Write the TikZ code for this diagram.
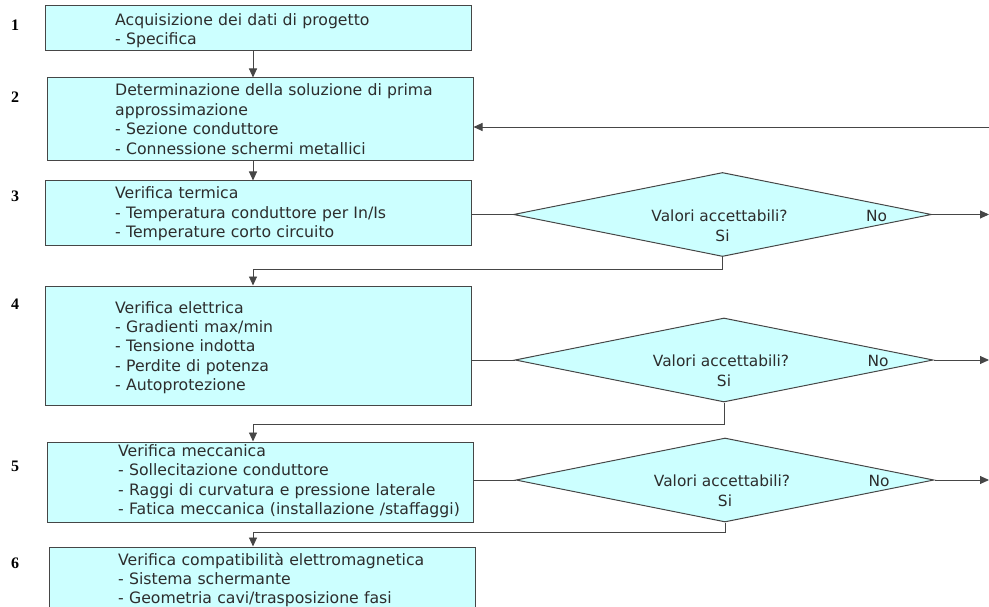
\documentclass[tikz,border=0pt]{standalone}
\usepackage{fontspec}
\usetikzlibrary{shapes.geometric,arrows.meta,positioning}
\newfontfamily\vfont{DejaVu Sans}
\newfontfamily\nfont{Liberation Serif}
\definecolor{boxfill}{RGB}{204,255,255}
\definecolor{boxline}{RGB}{70,70,70}
\definecolor{linec}{RGB}{70,70,70}
\definecolor{txtc}{RGB}{45,45,45}
\tikzset{
  box/.style={draw=boxline, fill=boxfill, line width=1pt, minimum width=426pt, inner sep=0pt},
  ask/.style={diamond, draw=boxline, fill=boxfill, line width=1pt, minimum width=418pt, minimum height=84pt, inner sep=0pt},
  txt/.style={anchor=base west, text width=370pt, align=left, inner sep=0pt, text=txtc, font=\vfont\fontsize{15.7}{19.4}\selectfont},
  dtxt/.style={inner sep=0pt, text=txtc, font=\vfont\fontsize{15.4}{18}\selectfont},
  num/.style={inner sep=0pt, font=\nfont\bfseries\fontsize{16}{16}\selectfont},
  ln/.style={draw=linec, line width=0.9pt},
  arr/.style={ln, -{Triangle[length=9pt,width=8pt]}}
}
\begin{document}
\begin{tikzpicture}[x=1pt,y=-1pt]

    \useasboundingbox (0,0) rectangle (989,607);

    % Numeri delle fasi
    \foreach \n/\y in {1/25, 2/97, 3/196, 4/304, 5/466, 6/563}
    \node[num] (n\n) at (15,\y) {\n};

    % Blocchi
    \node[box, minimum height=45pt]  (b1) at (258,28.5) {};
    \node[box, minimum height=83pt]  (b2) at (260,119.5) {};
    \node[box, minimum height=65pt]  (b3) at (258,213.5) {};
    \node[box, minimum height=119pt] (b4) at (258,345.5) {};
    \node[box, minimum height=80pt]  (b5) at (260,482) {};
    \node[box, minimum height=83pt]  (b6) at (262,588.5) {};

    \node[txt] (t1) at (115,25.5) {Acquisizione dei dati di progetto\\- Specifica};
    \node[txt] (t2) at (115,96) {Determinazione della soluzione di prima\\approssimazione\\- Sezione conduttore\\- Connessione schermi metallici};
    \node[txt] (t3) at (115,199) {Verifica termica\\- Temperatura conduttore per In/Is\\- Temperature corto circuito};
    \node[txt] (t4) at (115,313) {Verifica elettrica\\- Gradienti max/min\\- Tensione indotta\\- Perdite di potenza\\- Autoprotezione};
    \node[txt] (t5) at (118,456.5) {Verifica meccanica\\- Sollecitazione conduttore\\- Raggi di curvatura e pressione laterale\\- Fatica meccanica (installazione /staffaggi)};
    \node[txt] (t6) at (118,565) {Verifica compatibilità elettromagnetica\\- Sistema schermante\\- Geometria cavi/trasposizione fasi};

    % Controlli
    \foreach \k/\x/\y in {1/722.5/214.5, 2/724/360, 3/725/480}{
        \node[ask] (d\k) at (\x,\y) {};
        \node[dtxt] (q\k) at ([xshift=-3pt,yshift=-1pt]d\k.center) {Valori accettabili?};
        \node[dtxt] (no\k) at ([xshift=154pt,yshift=-1pt]d\k.center) {No};
        \node[dtxt] (si\k) at ([yshift=-21pt]d\k.center) {Si};
        \coordinate (out\k) at (989,\y);
        \draw[arr] (d\k.east) -- (out\k);
    }

    % Collegamenti
    \coordinate (spine) at (253,0);
    \coordinate (back) at (989,127);
    \draw[arr] (b1.south -| spine) -- (b2.north -| spine);
    \draw[arr] (b2.south -| spine) -- (b3.north -| spine);
    \draw[arr] (back) -- (back -| b2.east);

    \draw[ln] (b3.east |- d1.west) -- (d1.west);
    \draw[ln] (b4.east |- d2.west) -- (d2.west);
    \draw[ln] (b5.east |- d3.west) -- (d3.west);

    \draw[arr] (d1.south) -- ++(0,12) -| (b4.north -| spine);
    \draw[arr] (d2.south) -- ++(0,22) -| (b5.north -| spine);
    \draw[arr] (d3.south) -- ++(0,10) -| (b6.north -| spine);

\end{tikzpicture}
\end{document}
